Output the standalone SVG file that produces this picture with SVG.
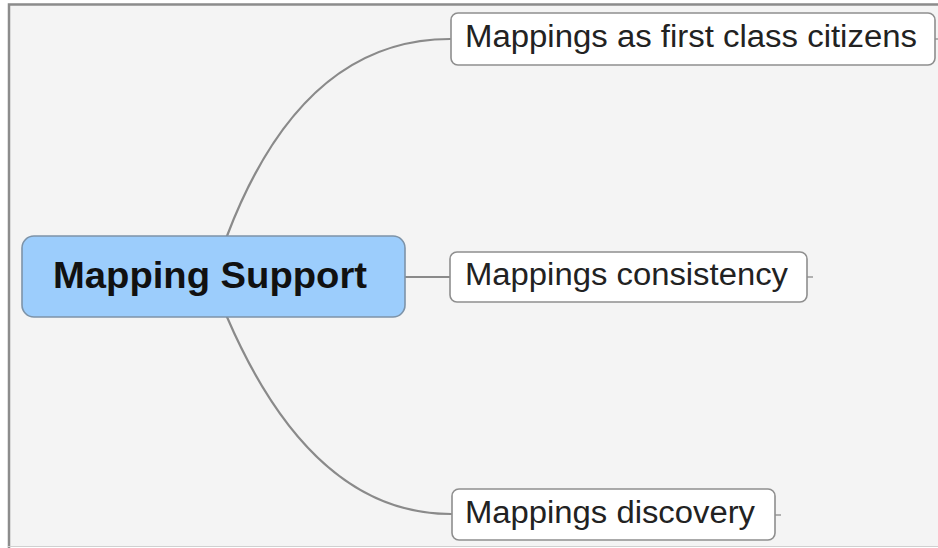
<svg xmlns="http://www.w3.org/2000/svg" width="938" height="548" viewBox="0 0 938 548">
  <style>
    .bg { fill: #f4f4f4; }
    .frame { fill: none; stroke: #8c8c8c; stroke-width: 2.5; }
    .link { fill: none; stroke: #8a8a8a; stroke-width: 2.2; stroke-linecap: round; }
    .stub { fill: none; stroke: #9a9a9a; stroke-width: 1.5; }
    .root { fill: #9ccdfc; stroke: #7d93a8; stroke-width: 1.6; }
    .topic { fill: #ffffff; stroke: #8e8e8e; stroke-width: 1.6; }
    .root-label { font-family: "Liberation Sans", Arial, sans-serif; font-weight: bold; font-size: 36px; fill: #111111; }
    .topic-label { font-family: "Liberation Sans", Arial, sans-serif; font-size: 31px; fill: #222222; }
  </style>

  <!-- canvas -->
  <rect x="0" y="0" width="938" height="548" fill="#ffffff"/>
  <rect class="bg" x="8" y="3" width="932" height="543"/>
  <path class="frame" d="M9 548 V4.5 H940"/>
  <line x1="8" y1="546.5" x2="938" y2="546.5" stroke="#d0d0d0" stroke-width="1"/>

  <!-- connectors -->
  <g id="connectors">
    <path class="link" d="M227 236 Q302 39 450 39"/>
    <path class="link" d="M405 277 H450"/>
    <path class="link" d="M227 317 Q312 514 451 514"/>
    <path class="stub" d="M935 39 H938"/>
    <path class="stub" d="M807 277 H813"/>
    <path class="stub" d="M775 515 H781"/>
  </g>

  <!-- central topic -->
  <g id="mapping-support">
    <rect class="root" x="22" y="236" width="383" height="81" rx="12" ry="12"/>
    <text class="root-label" x="53" y="288" textLength="314" lengthAdjust="spacingAndGlyphs">Mapping Support</text>
  </g>

  <!-- subtopics -->
  <g id="first-class-citizens">
    <rect class="topic" x="451" y="13" width="484" height="52" rx="7" ry="7"/>
    <text class="topic-label" x="465" y="47" textLength="452" lengthAdjust="spacingAndGlyphs">Mappings as first class citizens</text>
  </g>

  <g id="consistency">
    <rect class="topic" x="450" y="252" width="357" height="50" rx="7" ry="7"/>
    <text class="topic-label" x="465" y="285" textLength="323" lengthAdjust="spacingAndGlyphs">Mappings consistency</text>
  </g>

  <g id="discovery">
    <rect class="topic" x="452" y="489" width="323" height="51" rx="7" ry="7"/>
    <text class="topic-label" x="465" y="523" textLength="290" lengthAdjust="spacingAndGlyphs">Mappings discovery</text>
  </g>
</svg>
